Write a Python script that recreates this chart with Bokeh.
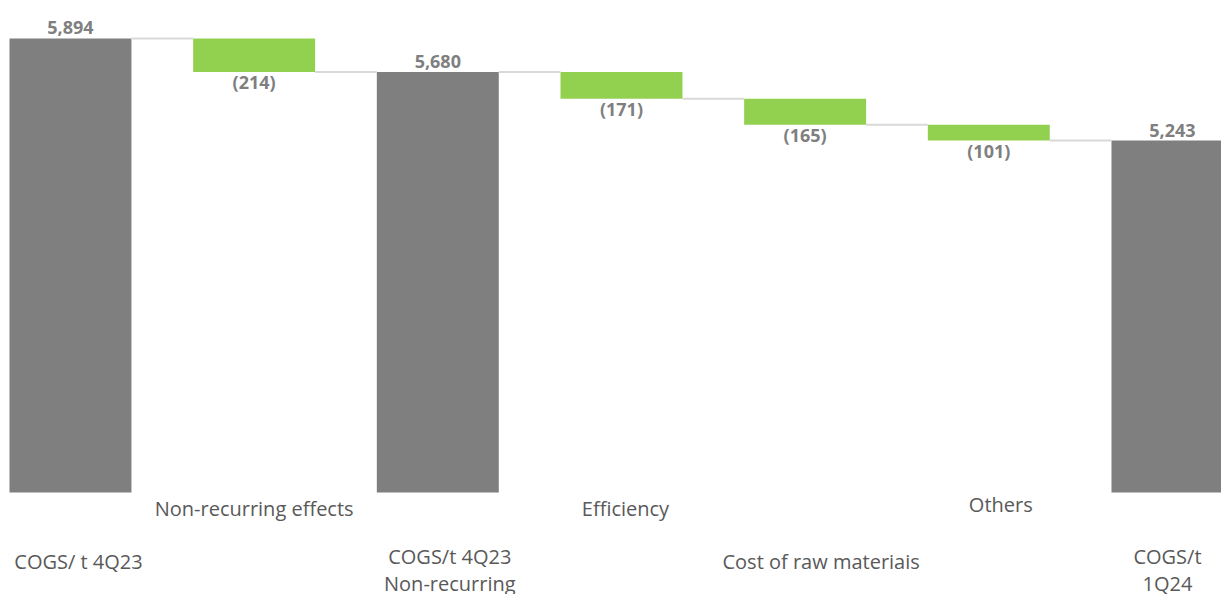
from bokeh.plotting import figure
from bokeh.models import ColumnDataSource, Range1d
from bokeh.core.properties import value
from bokeh.embed import file_html
from bokeh.resources import INLINE

categories = ["COGS/ t 4Q23", "Non-recurring effects", "COGS/t 4Q23\nNon-recurring",
              "Efficiency", "Cost of raw materiais", "Others", "COGS/t\n1Q24"]
values = [5894, -214, 5680, -171, -165, -101, 5243]
is_total = [True, False, True, False, False, False, True]
value_labels = ["5,894", "(214)", "5,680", "(171)", "(165)", "(101)", "5,243"]

BASE = 3000
GRAY = "#7f7f7f"
GREEN = "#92d050"

# waterfall geometry
xs, bottoms, tops, colors = [], [], [], []
running = 0
for i, (v, t) in enumerate(zip(values, is_total)):
    if t:
        running = v
        bottoms.append(BASE); tops.append(v); colors.append(GRAY)
    else:
        new = running + v
        bottoms.append(min(running, new)); tops.append(max(running, new)); colors.append(GREEN)
        running = new
    xs.append(i)

p = figure(width=1221, height=594, output_backend="svg", toolbar_location=None,
           x_range=Range1d(-0.381, 6.267), y_range=Range1d(2350, 6136),
           min_border=0, min_border_left=0, min_border_right=0, min_border_top=0, min_border_bottom=0)
p.axis.visible = False
p.grid.visible = False
p.outline_line_color = None
p.background_fill_color = "white"

bw = 0.664
src = ColumnDataSource(dict(x=xs, bottom=bottoms, top=tops, color=colors))
p.vbar(x="x", width=bw, bottom="bottom", top="top", fill_color="color", line_color=None, source=src)

# connectors
level = [tops[i] if is_total[i] else bottoms[i] for i in range(len(values))]
cx0 = [i + bw / 2 for i in range(len(values) - 1)]
cx1 = [i + 1 - bw / 2 for i in range(len(values) - 1)]
cy = [level[i] for i in range(len(values) - 1)]
p.segment(x0=cx0, y0=cy, x1=cx1, y1=cy, line_color="#d9d9d9", line_width=2)

# value labels
tot_x = [xs[i] for i in range(len(xs)) if is_total[i]]
tot_y = [tops[i] for i in range(len(xs)) if is_total[i]]
tot_t = [value_labels[i] for i in range(len(xs)) if is_total[i]]
p.text(x=tot_x, y=tot_y, text=tot_t, text_align="center", text_baseline="bottom", y_offset=-4,
       text_font=value("Open Sans"), text_font_style="bold", text_font_size="18px", text_color=GRAY)
neg_x = [xs[i] for i in range(len(xs)) if not is_total[i]]
neg_y = [bottoms[i] for i in range(len(xs)) if not is_total[i]]
neg_t = [value_labels[i] for i in range(len(xs)) if not is_total[i]]
p.text(x=neg_x, y=neg_y, text=neg_t, text_align="center", text_baseline="top", y_offset=-2,
       text_font=value("Open Sans"), text_font_style="bold", text_font_size="18px", text_color=GRAY)

# category labels (staggered)
scale = (5894 - BASE) / 454.0
row_px = [69, 16, 77, 16, 69, 12, 77]
x_off = [8, 0, 12, 4, 16, 12, -5]
lab_y = [BASE - r * scale for r in row_px]
p.text(x=xs, y=lab_y, text=categories, x_offset=x_off, text_align="center", text_baseline="middle",
       text_font=value("Open Sans"), text_font_size="20px", text_color="#595959",
       text_line_height=1.0)

open("out.html", "w").write(file_html(p, INLINE))
